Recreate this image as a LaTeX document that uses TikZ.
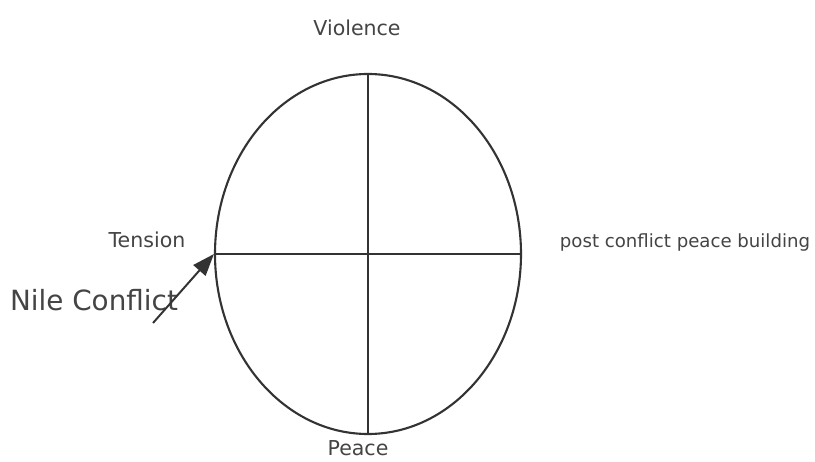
\documentclass[tikz,border=0pt]{standalone}
\usepackage{fontspec}
\setmainfont{DejaVu Sans}
\usetikzlibrary{positioning,arrows.meta,shapes.geometric}
\definecolor{ink}{HTML}{333333}
\definecolor{txt}{HTML}{444444}

\begin{document}
\begin{tikzpicture}[
  lbl/.style={text=txt, inner sep=0pt, font=\fontsize{14.6}{17}\selectfont},
  big/.style={text=txt, inner sep=0pt, font=\fontsize{19.8}{23}\selectfont},
  oval/.style={draw=ink, line width=1.5pt, ellipse, inner sep=0pt,
               minimum width=7.65cm, minimum height=9cm},
  axis/.style={draw=ink, line width=1.2pt},
  arr/.style={-{Triangle[length=5.5mm, width=4mm]}, draw=ink, line width=1.4pt},
]
\useasboundingbox (0,0) rectangle (20.375,-11.55);

% ---- the cycle -------------------------------------------------
\node[oval] (cyc) at (9.2,-6.35) {};
\draw[axis] (cyc.north) -- (cyc.south);
\draw[axis] (cyc.west)  -- (cyc.east);

% ---- phase labels ----------------------------------------------
\node[lbl] (viol)  at (8.925,-0.7)  {Violence};
\node[lbl] (tens)  at (3.675,-6.0)  {Tension};
\node[lbl, font=\fontsize{12.9}{15}\selectfont] (post) at (17.125,-6.05)
  {post conflict peace building};
\node[lbl] (peace) at (8.95,-11.2)  {Peace};

% ---- where the Nile sits ---------------------------------------
\node[big] (nile) at (2.35,-7.5) {Nile Conflict};
\coordinate (nstart) at (3.825,-8.075);
\draw[arr] (nstart) -- (cyc.west);

\end{tikzpicture}
\end{document}
